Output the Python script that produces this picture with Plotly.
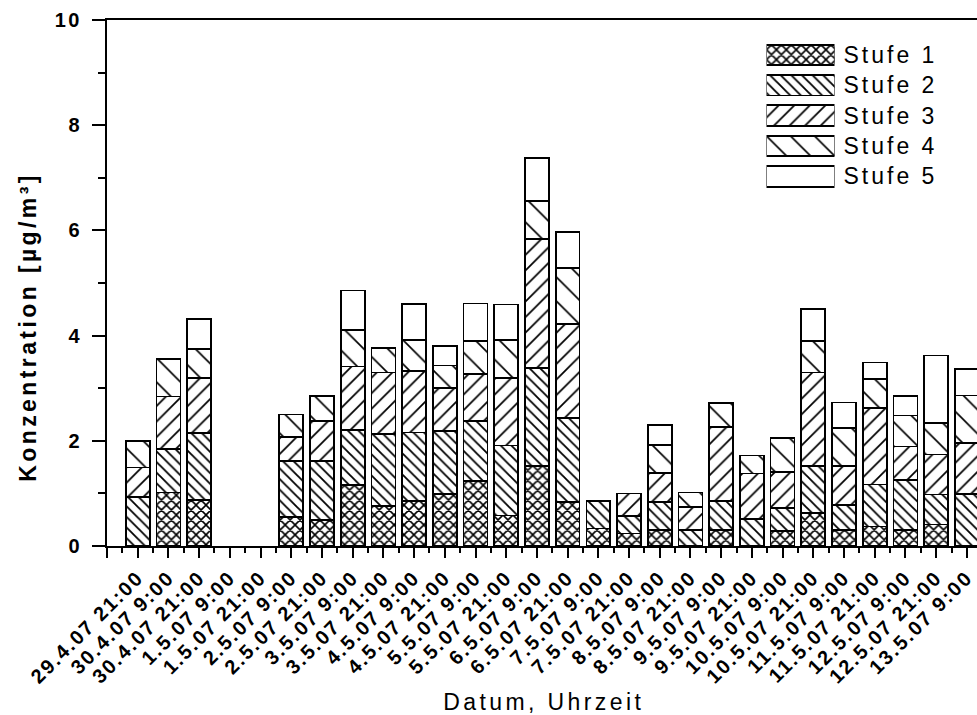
import plotly.graph_objects as go

# Sampling times (x categories)
labels = ["29.4.07 21:00", "30.4.07 9:00", "30.4.07 21:00", "1.5.07 9:00", "1.5.07 21:00",
          "2.5.07 9:00", "2.5.07 21:00", "3.5.07 9:00", "3.5.07 21:00", "4.5.07 9:00",
          "4.5.07 21:00", "5.5.07 9:00", "5.5.07 21:00", "6.5.07 9:00", "6.5.07 21:00",
          "7.5.07 9:00", "7.5.07 21:00", "8.5.07 9:00", "8.5.07 21:00", "9.5.07 9:00",
          "9.5.07 21:00", "10.5.07 9:00", "10.5.07 21:00", "11.5.07 9:00", "11.5.07 21:00",
          "12.5.07 9:00", "12.5.07 21:00", "13.5.07 9:00"]

# Concentration per impactor stage [µg/m³]
stufe1 = [0, 1.02, 0.88, 0, 0, 0.55, 0.50, 1.16, 0.76, 0.86, 0.99, 1.23, 0.58, 1.52, 0.84,
          0.33, 0.24, 0.30, 0, 0.30, 0, 0.29, 0.63, 0.31, 0.37, 0.30, 0.41, 0]
stufe2 = [0.93, 0.83, 1.27, 0, 0, 1.07, 1.12, 1.04, 1.37, 1.30, 1.19, 1.14, 1.33, 1.87, 1.60,
          0.52, 0.33, 0.54, 0.30, 0.55, 0.51, 0.43, 0.89, 0.47, 0.80, 0.96, 0.57, 0.99]
stufe3 = [0.56, 0.99, 1.04, 0, 0, 0.45, 0.75, 1.21, 1.17, 1.17, 0.83, 0.90, 1.28, 2.44, 1.78,
          0, 0.43, 0.55, 0.44, 1.41, 0.87, 0.69, 1.78, 0.74, 1.46, 0.63, 0.76, 0.97]
stufe4 = [0.50, 0.72, 0.56, 0, 0, 0.43, 0.48, 0.69, 0.47, 0.59, 0.42, 0.63, 0.73, 0.73, 1.06,
          0, 0, 0.53, 0.28, 0.46, 0.34, 0.64, 0.60, 0.72, 0.55, 0.59, 0.60, 0.90]
stufe5 = [0, 0, 0.56, 0, 0, 0, 0, 0.76, 0, 0.68, 0.37, 0.71, 0.67, 0.81, 0.69,
          0, 0, 0.38, 0, 0, 0, 0, 0.61, 0.49, 0.31, 0.37, 1.28, 0.51]

stage_names = ["Stufe 1", "Stufe 2", "Stufe 3", "Stufe 4", "Stufe 5"]
stage_values = [stufe1, stufe2, stufe3, stufe4, stufe5]

# hatch style per stage: (shape, tile size, solidity)
hatches = [("x", 7, 0.4), ("\\", 7.5, 0.24), ("/", 11, 0.16), ("\\", 17, 0.1), ("", 8, 0.1)]

FONT = "Liberation Sans, Arial, sans-serif"
W, H = 977, 715
ML, MR, MT, MB = 107, 0, 20, 169
plot_w = W - ML - MR
plot_h = H - MT - MB

xpos = list(range(len(labels)))


def stage_marker(shape, size, sol):
    return dict(color="white", line=dict(color="black", width=1.7),
                pattern=dict(shape=shape, size=size, solidity=sol,
                             fgcolor="black", bgcolor="white", fgopacity=1))


fig = go.Figure()
for name, vals, (shape, size, sol) in zip(stage_names, stage_values, hatches):
    # empty stages are left out of the stack
    fig.add_trace(go.Bar(
        x=xpos, y=[v if v else None for v in vals], name=name, width=0.78,
        showlegend=False, marker=stage_marker(shape, size, sol),
    ))

# legend swatches drawn as an inset of horizontal bars
for i, (name, (shape, size, sol)) in enumerate(zip(stage_names, hatches)):
    fig.add_trace(go.Bar(
        x=[1], y=[i], base=0, orientation="h", width=0.68, showlegend=False,
        xaxis="x2", yaxis="y2", marker=stage_marker(shape, size, sol),
    ))


def px_x(p):
    return (p - ML) / plot_w


def px_y(p):
    return (H - MB - p) / plot_h


fig.update_layout(
    width=W, height=H, template="none", barmode="stack",
    paper_bgcolor="white", plot_bgcolor="white",
    margin=dict(l=ML, r=MR, t=MT, b=MB, autoexpand=False),
    font=dict(family=FONT, color="black"),
    xaxis=dict(
        range=[-1, 27.33], automargin=False,
        tickmode="array", tickvals=[-1] + xpos, ticktext=[""] + labels,
        tickangle=-45, tickfont=dict(family=FONT, size=20, weight="bold"),
        ticks="outside", ticklen=10, tickwidth=2, tickcolor="black",
        minor=dict(tickmode="linear", tick0=-0.5, dtick=1, ticks="outside",
                   ticklen=5, tickwidth=2, tickcolor="black", showgrid=False),
        showline=True, linewidth=2, linecolor="black", mirror=True,
        showgrid=False, zeroline=False,
    ),
    yaxis=dict(
        range=[0, 10], automargin=False,
        tickmode="linear", tick0=0, dtick=2,
        tickfont=dict(family=FONT, size=20, weight="bold"),
        ticks="outside", ticklen=13, tickwidth=2, tickcolor="black",
        minor=dict(tickmode="linear", tick0=1, dtick=2, ticks="outside",
                   ticklen=7, tickwidth=2, tickcolor="black", showgrid=False),
        showline=True, linewidth=2, linecolor="black",
        showgrid=False, zeroline=False, ticklabelstandoff=6,
    ),
    xaxis2=dict(domain=[px_x(766.5), px_x(834.5)], range=[0, 1], anchor="y2",
                visible=False, fixedrange=True),
    yaxis2=dict(domain=[px_y(191.5), px_y(39.8)], range=[4.5, -0.5], anchor="x2",
                side="right", tickmode="array", tickvals=list(range(len(stage_names))),
                ticktext=stage_names, ticks="", showline=False, showgrid=False,
                zeroline=False, ticklabelstandoff=8,
                tickfont=dict(family=FONT, size=23)),
    annotations=[
        dict(text="Konzentration [µg/m³]", xref="paper", yref="paper",
             x=px_x(28), y=px_y(327), xanchor="center", yanchor="middle",
             textangle=-90, showarrow=False,
             font=dict(family=FONT, size=23, weight="bold")),
        dict(text="Datum, Uhrzeit", xref="paper", yref="paper",
             x=px_x(544), y=px_y(702), xanchor="center", yanchor="middle",
             showarrow=False, font=dict(family=FONT, size=23)),
    ],
)

# widen the letter spacing of the text, as in the printed figure
spacing_js = """
var gd = document.getElementById('{plot_id}');
function spread(sel, amount) {
  gd.querySelectorAll(sel).forEach(function (t) { t.style.letterSpacing = amount; });
}
spread('.xtick text', '2px');
spread('.ytick text', '2.5px');
spread('.y2tick text', '3px');
spread('.annotation-text', '3.4px');
"""

fig.write_html("out.html", post_script=spacing_js)
